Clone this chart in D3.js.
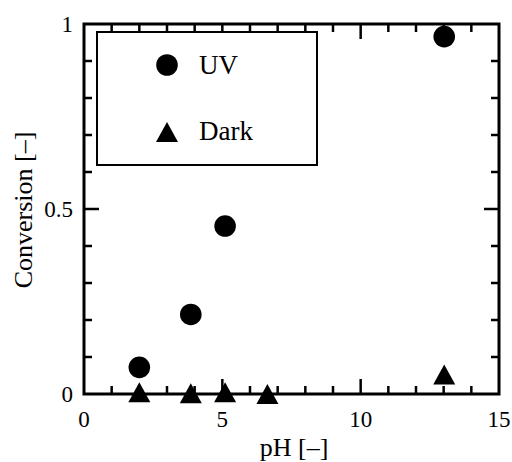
<!DOCTYPE html>
<html>
<head>
<meta charset="utf-8">
<script src="https://cdn.jsdelivr.net/npm/d3@7"></script>
<style>
  body { margin: 0; background: #fff; }
  svg text { font-family: "Liberation Serif", "DejaVu Serif", serif; fill: #000; }
</style>
</head>
<body>
<svg id="chart" width="512" height="462"></svg>
<script>
// data
const uvPH = [2.0, 3.86, 5.1, 13.02];
const uvConversion = [0.072, 0.215, 0.454, 0.966];
const darkPH = [2.0, 3.86, 5.1, 6.63, 13.02];
const darkConversion = [0.005, 0.002, 0.005, 0.0, 0.053];
const xTickLabels = [0, 5, 10, 15];
const yTickLabels = [0, 0.5, 1];

const svg = d3.select("#chart");
const plotLeft = 84, plotRight = 499, plotTop = 24, plotBottom = 394;

const x = d3.scaleLinear().domain([0, 15]).range([plotLeft, plotRight]);
const y = d3.scaleLinear().domain([0, 1]).range([plotBottom, plotTop]);

// frame
svg.append("rect")
  .attr("x", plotLeft).attr("y", plotTop)
  .attr("width", plotRight - plotLeft).attr("height", plotBottom - plotTop)
  .attr("fill", "none").attr("stroke", "#000").attr("stroke-width", 3);

// ticks pointing inward on all four sides
const xMinor = d3.range(1, 15).filter(v => v % 5 !== 0);
const yMinor = d3.range(1, 10).filter(v => v !== 5).map(v => v / 10);

function tickLines(values, scale, horizontal, len) {
  values.forEach(v => {
    const p = scale(v);
    if (horizontal) {
      svg.append("line").attr("x1", p).attr("x2", p).attr("y1", plotBottom).attr("y2", plotBottom - len);
      svg.append("line").attr("x1", p).attr("x2", p).attr("y1", plotTop).attr("y2", plotTop + len);
    } else {
      svg.append("line").attr("y1", p).attr("y2", p).attr("x1", plotLeft).attr("x2", plotLeft + len);
      svg.append("line").attr("y1", p).attr("y2", p).attr("x1", plotRight).attr("x2", plotRight - len);
    }
  });
}
tickLines(xMinor, x, true, 8);
tickLines([5, 10], x, true, 15);
tickLines(yMinor, y, false, 8);
tickLines([0.5], y, false, 15);
svg.selectAll("line").attr("stroke", "#000").attr("stroke-width", 2.5);

// tick labels
svg.selectAll(".xl").data(xTickLabels).enter().append("text")
  .attr("x", d => x(d)).attr("y", 427)
  .attr("text-anchor", "middle").attr("font-size", 23)
  .text(d => d);

svg.selectAll(".yl").data(yTickLabels).enter().append("text")
  .attr("x", 73).attr("y", d => y(d) + 7.5)
  .attr("text-anchor", "end").attr("font-size", 23)
  .text(d => d);

// axis titles
svg.append("text")
  .attr("x", 294).attr("y", 456)
  .attr("text-anchor", "middle").attr("font-size", 26)
  .text("pH [\u2013]");

svg.append("text")
  .attr("transform", "translate(32,210) rotate(-90)")
  .attr("text-anchor", "middle").attr("font-size", 26)
  .text("Conversion [\u2013]");

// markers
const circle = d3.symbol().type(d3.symbolCircle).size(Math.PI * 10.8 * 10.8);
const triPath = "M0,-10L11,10L-11,10Z";

svg.selectAll(".uv").data(uvPH).enter().append("path")
  .attr("d", circle)
  .attr("transform", (d, i) => `translate(${x(d)},${y(uvConversion[i])})`)
  .attr("fill", "#000");

svg.selectAll(".dark").data(darkPH).enter().append("path")
  .attr("d", triPath)
  .attr("transform", (d, i) => `translate(${x(d)},${y(darkConversion[i])})`)
  .attr("fill", "#000");

// legend
svg.append("rect")
  .attr("x", 97).attr("y", 32).attr("width", 220).attr("height", 133)
  .attr("fill", "#fff").attr("stroke", "#000").attr("stroke-width", 2);

svg.append("path").attr("d", circle).attr("transform", "translate(167,65)").attr("fill", "#000");
svg.append("text").attr("x", 199).attr("y", 74).attr("font-size", 27).text("UV");
svg.append("path").attr("d", triPath).attr("transform", "translate(167,132)").attr("fill", "#000");
svg.append("text").attr("x", 199).attr("y", 140).attr("font-size", 27).text("Dark");
</script>
</body>
</html>
